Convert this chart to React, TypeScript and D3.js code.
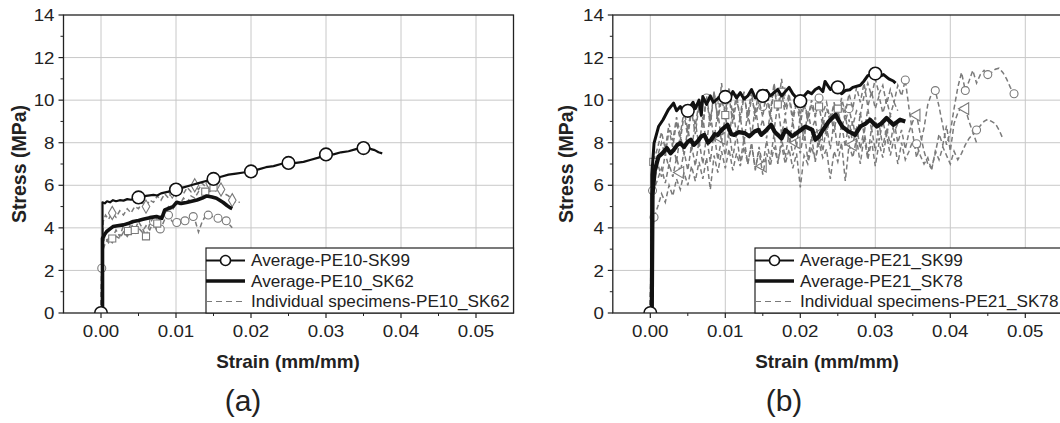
import React from 'react';
import * as d3 from 'd3';

type Pt = [number, number];

const xTicks = [0, 0.01, 0.02, 0.03, 0.04, 0.05];
const yTicks = [0, 2, 4, 6, 8, 10, 12, 14];
const xMinor = [0.005, 0.015, 0.025, 0.035, 0.045];
const yMinor = [1, 3, 5, 7, 9, 11, 13];

// ---------- panel (a) ----------
const aLegend = ['Average-PE10-SK99', 'Average-PE10_SK62', 'Individual specimens-PE10_SK62'];

const aSk99: Pt[] = [[0,0],[0.0002,0.3],[0.0002,5.2],[0.0005,5.15],[0.0008,5.25],[0.0012,5.2],[0.0016,5.3],[0.002,5.25],[0.0025,5.3],[0.003,5.28],[0.0035,5.35],[0.004,5.32],[0.005,5.43],[0.006,5.5],[0.007,5.55],[0.0075,5.52],[0.008,5.62],[0.009,5.7],[0.01,5.8],[0.011,5.9],[0.012,6.0],[0.013,6.1],[0.014,6.2],[0.015,6.3],[0.016,6.4],[0.017,6.5],[0.018,6.55],[0.019,6.6],[0.02,6.65],[0.021,6.75],[0.022,6.85],[0.023,6.9],[0.024,7.0],[0.025,7.05],[0.026,7.05],[0.027,7.1],[0.028,7.2],[0.029,7.3],[0.03,7.45],[0.031,7.45],[0.032,7.55],[0.033,7.6],[0.034,7.7],[0.035,7.75],[0.0355,7.8],[0.036,7.7],[0.0365,7.65],[0.037,7.55],[0.0375,7.5]];
const aSk99Marks: Pt[] = [[0,0],[0.005,5.43],[0.01,5.8],[0.015,6.3],[0.02,6.65],[0.025,7.05],[0.03,7.45],[0.035,7.75]];

const aSk62: Pt[] = [[0,0],[0.0002,0.2],[0.0002,3.51],[0.0005,3.7],[0.00076,3.83],[0.0012,3.95],[0.0016,4.06],[0.0022,4.1],[0.003,4.14],[0.0036,4.2],[0.0043,4.3],[0.005,4.35],[0.0056,4.4],[0.0065,4.48],[0.0074,4.53],[0.0081,4.45],[0.0085,4.84],[0.0096,5.0],[0.0101,5.2],[0.0107,5.15],[0.0114,5.19],[0.0121,5.25],[0.0128,5.31],[0.0135,5.4],[0.0141,5.5],[0.0148,5.45],[0.0154,5.39],[0.0163,5.19],[0.0168,5.05],[0.0172,4.95],[0.0175,4.9]];

const aSpec1: Pt[] = [[0,0],[0.0001,2.5],[0.0003,4.3],[0.0006,4.6],[0.001,4.4],[0.0015,4.7],[0.002,4.5],[0.0025,4.8],[0.003,4.6],[0.0035,4.9],[0.004,4.7],[0.0045,5.0],[0.005,4.9],[0.0055,5.2],[0.006,5.0],[0.0065,5.3],[0.007,5.2],[0.0075,5.5],[0.008,5.3],[0.0085,5.6],[0.009,5.4],[0.0095,5.7],[0.01,5.5],[0.0105,5.8],[0.011,5.6],[0.0115,5.9],[0.012,5.7],[0.0125,6.0],[0.013,5.8],[0.0135,6.1],[0.014,5.9],[0.0145,6.1],[0.015,6.0],[0.0155,5.9],[0.016,5.8],[0.0165,5.6],[0.017,5.5],[0.0175,5.3],[0.018,5.2],[0.0185,5.2]];
const aSpec1Marks: Pt[] = [[0.0015,4.7],[0.006,5.0],[0.0095,5.7],[0.0125,6.0],[0.0145,6.1],[0.016,5.8],[0.0175,5.3]];
const aSpec2: Pt[] = [[0,0],[0.0001,2.1],[0.0003,3.0],[0.0006,3.3],[0.001,3.5],[0.0015,3.3],[0.002,3.6],[0.0025,3.5],[0.003,3.8],[0.0035,3.6],[0.004,3.9],[0.0045,3.7],[0.005,4.0],[0.0055,3.8],[0.006,4.1],[0.0065,3.9],[0.007,4.3],[0.0075,3.8],[0.008,4.0],[0.0085,4.4],[0.009,4.6],[0.0095,4.3],[0.01,4.2],[0.0105,4.4],[0.011,4.3],[0.0115,4.4],[0.012,4.5],[0.0125,4.4],[0.013,3.8],[0.0135,4.3],[0.014,4.6],[0.0145,4.6],[0.015,4.5],[0.0155,4.4],[0.016,4.4],[0.0165,4.35],[0.017,4.2],[0.0175,4.0]];
const aSpec2Marks: Pt[] = [[0.0001,2.1],[0.007,4.3],[0.0079,3.95],[0.009,4.6],[0.0101,4.25],[0.0112,4.33],[0.0123,4.53],[0.0143,4.6],[0.0156,4.45],[0.0167,4.33]];
const aSpec3: Pt[] = [[0,0],[0.0002,3.0],[0.0005,3.6],[0.001,3.3],[0.0015,3.5],[0.002,3.9],[0.0025,3.6],[0.003,4.1],[0.0035,3.8],[0.004,4.2],[0.0045,3.9],[0.005,4.3],[0.0055,4.0],[0.006,3.6],[0.0065,4.2],[0.007,4.5],[0.0075,4.2],[0.008,4.6],[0.0085,4.8],[0.009,5.0],[0.0095,4.8],[0.01,5.2],[0.0105,5.1],[0.011,5.4],[0.0115,5.2],[0.012,5.5],[0.0125,5.4],[0.013,5.7],[0.0135,5.6],[0.014,5.8],[0.0145,5.7],[0.015,5.9],[0.0155,5.6]];
const aSpec3Marks: Pt[] = [[0.0015,3.5],[0.0036,3.85],[0.0045,3.9],[0.006,3.6],[0.0075,4.2],[0.0139,5.7],[0.015,5.9]];

// ---------- panel (b) ----------
const bLegend = ['Average-PE21_SK99', 'Average-PE21_SK78', 'Individual specimens-PE21_SK78'];

const bSk99: Pt[] = [[0,0],[0.0002,0.2],[0.0002,6.5],[0.0005,7.98],[0.0011,8.76],[0.0017,9.08],[0.0024,9.55],[0.0031,9.86],[0.0035,9.5],[0.004,9.7],[0.0045,9.4],[0.005,9.52],[0.0057,9.9],[0.006,9.6],[0.0065,10.0],[0.0068,9.3],[0.007,10.17],[0.0075,9.8],[0.008,10.2],[0.0084,9.9],[0.0093,10.17],[0.01,10.17],[0.0105,10.0],[0.011,10.4],[0.0115,10.1],[0.012,10.35],[0.0125,10.05],[0.013,10.2],[0.0135,10.5],[0.014,10.1],[0.015,10.2],[0.0155,10.45],[0.016,10.2],[0.0165,10.35],[0.017,10.5],[0.0175,10.2],[0.018,10.4],[0.0185,10.6],[0.019,10.3],[0.0195,10.1],[0.02,9.99],[0.0205,10.2],[0.021,10.4],[0.0215,10.3],[0.022,10.5],[0.0225,10.6],[0.023,10.4],[0.0233,10.88],[0.024,10.5],[0.0245,10.7],[0.025,10.6],[0.0255,10.3],[0.026,10.45],[0.0266,10.49],[0.027,10.6],[0.028,10.7],[0.0285,10.9],[0.029,11.15],[0.03,11.27],[0.0305,11.1],[0.0311,11.2],[0.0318,11.0],[0.0324,10.9],[0.0327,10.8]];
const bSk99Marks: Pt[] = [[0,0],[0.005,9.5],[0.01,10.15],[0.015,10.2],[0.02,9.95],[0.025,10.6],[0.03,11.25]];

const bSk78: Pt[] = [[0,0],[0.0002,0.2],[0.0003,5.6],[0.0006,6.7],[0.0011,7.35],[0.0016,7.5],[0.0022,7.75],[0.0027,7.5],[0.0031,7.65],[0.0036,7.9],[0.004,7.98],[0.0045,7.8],[0.005,8.05],[0.0054,8.14],[0.0058,7.9],[0.0063,8.06],[0.0068,8.3],[0.0072,8.37],[0.0077,8.0],[0.0081,8.14],[0.0086,8.4],[0.009,8.37],[0.0095,8.6],[0.0103,8.84],[0.0108,8.4],[0.0112,8.37],[0.0118,8.5],[0.0126,8.45],[0.0132,8.3],[0.0139,8.53],[0.0144,8.6],[0.0148,8.37],[0.0155,8.6],[0.0161,8.84],[0.0166,8.5],[0.017,8.37],[0.0175,8.2],[0.018,8.6],[0.0185,8.45],[0.0189,8.3],[0.0198,8.53],[0.0207,8.76],[0.0216,8.6],[0.022,8.14],[0.0225,8.3],[0.0229,8.53],[0.0238,9.0],[0.0247,9.31],[0.0252,9.0],[0.0256,8.76],[0.0264,8.53],[0.0269,8.45],[0.0273,8.37],[0.028,8.76],[0.0287,8.9],[0.0293,9.08],[0.0302,8.76],[0.0308,8.9],[0.0315,9.16],[0.0324,8.84],[0.0333,9.08],[0.034,9.0]];

const bSpec1: Pt[] = [[0,0],[0.0001,3],[0.0003,5.75],[0.0008,7.2],[0.0015,8.0],[0.002,7.4],[0.0025,8.6],[0.003,7.8],[0.0035,9.0],[0.004,8.1],[0.0045,9.3],[0.005,8.3],[0.0055,9.5],[0.006,8.4],[0.0065,9.8],[0.007,8.7],[0.0075,10.1],[0.008,8.8],[0.0085,10.4],[0.009,9.0],[0.0095,10.8],[0.01,9.2],[0.0105,10.2],[0.011,8.9],[0.0115,10.0],[0.012,9.3],[0.0125,10.4],[0.013,9.0],[0.0135,10.1],[0.014,9.4],[0.0145,10.5],[0.015,9.7],[0.0155,10.3],[0.016,9.1],[0.0165,10.6],[0.017,9.5],[0.0175,11.0],[0.018,9.6],[0.0185,10.3],[0.019,9.2],[0.0195,10.0],[0.02,9.3],[0.0205,10.2],[0.021,9.0],[0.0215,9.8],[0.022,9.2],[0.0225,10.1],[0.023,9.4],[0.0235,9.9],[0.024,9.0],[0.0245,9.7],[0.025,9.3],[0.0255,9.9],[0.026,9.0],[0.0265,9.6],[0.027,8.8],[0.0275,9.5],[0.028,9.3],[0.0285,10.2],[0.029,10.8],[0.0295,10.2],[0.03,11.0],[0.0305,10.3],[0.031,10.7],[0.0315,9.8],[0.032,10.5],[0.0325,9.9],[0.033,10.7],[0.0335,10.2],[0.034,10.95],[0.0345,9.6],[0.035,8.4],[0.0355,7.3],[0.036,7.9],[0.0365,8.7],[0.037,9.8],[0.0375,10.3],[0.038,10.45],[0.0385,9.7],[0.039,8.8],[0.0395,7.9],[0.04,8.5],[0.0405,9.6],[0.041,10.6],[0.0415,11.3],[0.042,10.45],[0.0425,10.9],[0.043,11.4],[0.0435,10.8],[0.044,11.2],[0.0445,11.4],[0.045,11.2],[0.0455,11.3],[0.046,11.45],[0.0465,11.5],[0.047,11.3],[0.0475,11.0],[0.048,10.6],[0.0485,10.3]];
const bSpec1Marks: Pt[] = [[0.0003,5.75],[0.0075,10.1],[0.015,9.7],[0.0225,10.1],[0.0265,9.6],[0.034,10.95],[0.038,10.45],[0.042,10.45],[0.045,11.2],[0.0485,10.3]];
const bSpec2: Pt[] = [[0,0],[0.0002,4.5],[0.0005,5.8],[0.001,6.3],[0.0015,6.8],[0.002,6.1],[0.0025,7.0],[0.003,6.4],[0.0035,7.3],[0.004,6.6],[0.0045,7.6],[0.005,6.7],[0.0055,7.9],[0.006,6.9],[0.0065,8.1],[0.007,7.0],[0.0075,8.3],[0.008,7.1],[0.0085,8.5],[0.009,7.2],[0.0095,8.2],[0.01,7.4],[0.0105,8.6],[0.011,7.3],[0.0115,8.4],[0.012,7.1],[0.0125,8.2],[0.013,7.0],[0.0135,8.0],[0.014,6.7],[0.0145,7.8],[0.015,6.9],[0.0155,8.1],[0.016,7.2],[0.0165,8.4],[0.017,7.0],[0.0175,8.2],[0.018,7.3],[0.0185,8.5],[0.019,7.4],[0.0195,8.0],[0.02,7.5],[0.0205,8.6],[0.021,7.2],[0.0215,8.3],[0.022,7.1],[0.0225,8.4],[0.023,7.6],[0.0235,8.8],[0.024,7.7],[0.0245,9.0],[0.025,7.6],[0.0255,8.9],[0.026,7.8],[0.0265,9.1],[0.027,7.9],[0.0275,8.8],[0.028,7.7],[0.0285,8.6],[0.029,7.4],[0.0295,8.7],[0.03,7.6],[0.0305,8.9],[0.031,7.8],[0.0315,8.7],[0.032,7.9],[0.0325,9.0],[0.033,8.0],[0.0335,8.6],[0.034,7.7],[0.0345,8.5],[0.035,9.0],[0.0355,9.3],[0.036,8.4],[0.0365,7.6],[0.037,7.0],[0.0375,6.8],[0.038,7.5],[0.0385,8.4],[0.039,7.9],[0.0395,8.8],[0.04,7.6],[0.0405,8.9],[0.041,9.4],[0.0415,9.7],[0.042,9.6],[0.0425,9.0],[0.043,8.5],[0.0435,8.0]];
const bSpec2Marks: Pt[] = [[0.004,6.6],[0.0095,8.2],[0.015,6.9],[0.0195,8.0],[0.0225,8.4],[0.027,7.9],[0.0355,9.3],[0.042,9.6]];
const bSpec3: Pt[] = [[0,0],[0.0002,5.2],[0.0004,7.1],[0.001,7.8],[0.0015,8.5],[0.002,7.7],[0.0025,8.9],[0.003,8.1],[0.0035,9.2],[0.004,8.4],[0.0045,9.5],[0.005,8.6],[0.0055,9.6],[0.006,8.8],[0.0065,9.9],[0.007,8.9],[0.0075,10.2],[0.008,9.0],[0.0085,10.4],[0.009,9.1],[0.0095,10.0],[0.01,9.4],[0.0105,10.6],[0.011,9.2],[0.0115,10.3],[0.012,9.0],[0.0125,10.2],[0.013,9.3],[0.0135,10.4],[0.014,9.1],[0.0145,10.0],[0.015,9.2],[0.0155,10.5],[0.016,9.4],[0.0165,10.8],[0.017,9.6],[0.0175,10.4],[0.018,9.3],[0.0185,10.1],[0.019,9.0],[0.0195,9.9],[0.02,8.9],[0.0205,9.8],[0.021,9.1],[0.0215,10.0],[0.022,9.3],[0.0225,9.7],[0.023,8.8],[0.0235,9.6],[0.024,9.0],[0.0245,9.9],[0.025,9.2],[0.0255,10.1],[0.026,9.4],[0.0265,10.3],[0.027,9.6],[0.0275,10.6],[0.028,9.9],[0.0285,10.8],[0.029,9.7],[0.0295,10.4],[0.03,9.6],[0.0305,10.2],[0.031,9.4],[0.0315,10.0],[0.032,9.3],[0.0325,9.9],[0.033,9.5]];
const bSpec3Marks: Pt[] = [[0.0004,7.1],[0.0095,10.0],[0.0175,10.4],[0.0225,9.7]];
const bSpec4: Pt[] = [[0,0],[0.0002,3.5],[0.0005,4.5],[0.001,5.0],[0.0015,5.6],[0.002,5.2],[0.0025,6.0],[0.003,5.5],[0.0035,6.3],[0.004,5.8],[0.0045,6.6],[0.005,6.0],[0.0055,6.9],[0.006,6.2],[0.0065,7.1],[0.007,6.3],[0.0075,7.3],[0.008,5.8],[0.0085,7.4],[0.009,6.6],[0.0095,7.6],[0.01,6.8],[0.0105,7.7],[0.011,6.7],[0.0115,7.5],[0.012,6.9],[0.0125,7.8],[0.013,7.0],[0.0135,7.9],[0.014,6.8],[0.0145,7.6],[0.015,6.5],[0.0155,7.5],[0.016,6.9],[0.0165,7.8],[0.017,7.1],[0.0175,7.9],[0.018,7.0],[0.0185,7.7],[0.019,6.8],[0.0195,7.5],[0.02,5.9],[0.0205,7.4],[0.021,7.0],[0.0215,7.8],[0.022,7.2],[0.0225,8.0],[0.023,7.3],[0.0235,7.7],[0.024,6.3],[0.0245,7.6],[0.025,7.1],[0.0255,8.0],[0.026,6.2],[0.0265,7.9],[0.027,7.3],[0.0275,8.2],[0.028,7.0],[0.0285,8.3],[0.029,7.2],[0.0295,8.1],[0.03,6.9],[0.0305,8.0],[0.031,7.3],[0.0315,8.4],[0.032,7.4],[0.0325,8.2],[0.033,7.0],[0.0335,8.0],[0.034,7.2],[0.0345,7.6],[0.035,8.1],[0.0355,7.95],[0.036,7.4],[0.0365,7.0],[0.037,7.3],[0.0375,6.7],[0.038,7.6],[0.0385,7.2],[0.039,7.8],[0.0395,7.4],[0.04,7.0],[0.0405,7.6],[0.041,7.2],[0.0415,7.5],[0.042,7.9],[0.0425,8.2],[0.043,8.4],[0.0435,8.6],[0.044,8.8],[0.0445,9.0],[0.045,9.1],[0.0455,9.0],[0.046,8.9],[0.0465,8.6],[0.047,8.2]];
const bSpec4Marks: Pt[] = [[0.0005,4.5],[0.0355,7.95],[0.0435,8.6]];
const bSpec5: Pt[] = [[0,0],[0.0002,4.0],[0.0005,6.2],[0.001,7.0],[0.0015,6.4],[0.002,7.5],[0.0025,6.8],[0.003,8.0],[0.0035,7.1],[0.004,8.4],[0.0045,7.4],[0.005,8.7],[0.0055,7.6],[0.006,9.0],[0.0065,7.8],[0.007,9.2],[0.0075,7.9],[0.008,9.4],[0.0085,8.1],[0.009,9.5],[0.0095,8.0],[0.01,9.3],[0.0105,8.2],[0.011,9.6],[0.0115,8.4],[0.012,9.2],[0.0125,8.0],[0.013,9.5],[0.0135,8.3],[0.014,9.7],[0.0145,8.5],[0.015,9.1],[0.0155,8.2],[0.016,9.4],[0.0165,8.6],[0.017,9.8],[0.0175,8.4],[0.018,9.2],[0.0185,8.0],[0.019,9.0],[0.0195,7.8],[0.02,9.3],[0.0205,8.1],[0.021,9.5],[0.0215,8.6],[0.022,9.1],[0.0225,7.9],[0.023,9.2],[0.0235,8.3],[0.024,9.4],[0.0245,8.5],[0.025,9.6],[0.0255,8.7],[0.026,9.3],[0.0265,8.2],[0.027,9.0],[0.0275,8.0],[0.028,9.4],[0.0285,8.4],[0.029,9.6],[0.0295,8.6],[0.03,9.2],[0.0305,8.1],[0.031,9.0],[0.0315,8.3],[0.032,9.3],[0.0325,8.5],[0.033,8.9]];
const bSpec5Marks: Pt[] = [[0.01,9.3],[0.017,9.8],[0.025,9.6]];

const FONT = '"Liberation Sans", Arial, sans-serif';
const GRAY = '#7a7a7a';

type Spec = { pts: Pt[]; marks: Pt[]; shape: string };

const shapes: Record<string, d3.SymbolType> = {
  circle: d3.symbolCircle,
  square: d3.symbolSquare,
  diamond: d3.symbolDiamond,
  triangle: d3.symbolTriangle,
};

// text that is a bit wider than the font, like the stretched original
function T(props: { x: number; y: number; sx: number; size: number; anchor?: string; bold?: boolean; dy?: string; children: React.ReactNode }) {
  return (
    <text
      transform={`translate(${props.x},${props.y}) scale(${props.sx},1)`}
      dy={props.dy}
      textAnchor={props.anchor || 'start'}
      fontFamily={FONT}
      fontWeight={props.bold ? 'bold' : 'normal'}
      fontSize={props.size}
      fill="#222"
    >
      {props.children}
    </text>
  );
}

function Panel(props: {
  id: string;
  x0: number;
  legendX: number;
  labels: string[];
  avgA: Pt[];
  avgAMarks: Pt[];
  avgB: Pt[];
  wA: number;
  wB: number;
  specs: Spec[];
  yTitleX: number;
  xTitleX: number;
  tag: string;
  tagX: number;
}) {
  const { id, x0, legendX, labels, avgA, avgAMarks, avgB, specs } = props;
  const x = d3.scaleLinear().domain([-0.005, 0.055]).range([x0, x0 + 450]);
  const y = d3.scaleLinear().domain([0, 14]).range([313, 15]);
  const line = d3.line<Pt>().x(d => x(d[0])).y(d => y(d[1]));
  const right = x(0.055);
  const rows = [260.5, 281, 301.5];

  return (
    <g>
      <defs>
        <clipPath id={id}>
          <rect x={x0} y={15} width={450} height={298} />
        </clipPath>
      </defs>
      {/* grid */}
      {xTicks.map(t => (
        <line key={'gx' + t} x1={x(t)} x2={x(t)} y1={y(0)} y2={y(14)} stroke="#c8c8c8" strokeWidth={1} />
      ))}
      {yTicks.filter(t => t > 0 && t < 14).map(t => (
        <line key={'gy' + t} x1={x0} x2={right} y1={y(t)} y2={y(t)} stroke="#c8c8c8" strokeWidth={1} />
      ))}

      {/* data */}
      <g clipPath={`url(#${id})`}>
        {specs.map((s, i) => (
          <g key={'s' + i}>
            <path d={line(s.pts) || ''} fill="none" stroke={GRAY} strokeWidth={1.5} strokeDasharray="5,3" />
            {s.marks.map((m, j) => (
              <path
                key={j}
                d={d3.symbol().type(shapes[s.shape]).size(s.shape === 'triangle' ? 60 : 50)() || ''}
                transform={`translate(${x(m[0])},${y(m[1])})${s.shape === 'triangle' ? ' rotate(-90)' : ''}`}
                fill="white"
                stroke={GRAY}
                strokeWidth={1.1}
              />
            ))}
          </g>
        ))}
        <path d={line(avgB) || ''} fill="none" stroke="#111" strokeWidth={props.wB} strokeLinejoin="round" />
        <path d={line(avgA) || ''} fill="none" stroke="#111" strokeWidth={props.wA} strokeLinejoin="round" />
        {avgAMarks.map((m, j) => (
          <circle key={j} cx={x(m[0])} cy={y(m[1])} r={6.3} fill="white" stroke="#111" strokeWidth={1.6} />
        ))}
      </g>

      {/* frame */}
      <rect x={x0} y={15} width={450} height={298} fill="none" stroke="#222" strokeWidth={1.3} />

      {/* ticks */}
      {xTicks.map(t => (
        <g key={'tx' + t}>
          <line x1={x(t)} x2={x(t)} y1={313} y2={318} stroke="#222" strokeWidth={1.2} />
          <T x={x(t)} y={337} sx={1.1} size={17} anchor="middle">
            {d3.format('.2f')(t)}
          </T>
        </g>
      ))}
      {xMinor.map(t => (
        <line key={'mx' + t} x1={x(t)} x2={x(t)} y1={313} y2={316} stroke="#222" strokeWidth={1} />
      ))}
      {yTicks.map(t => (
        <g key={'ty' + t}>
          <line x1={x0 - 5} x2={x0} y1={y(t)} y2={y(t)} stroke="#222" strokeWidth={1.2} />
          <T x={x0 - 9} y={y(t)} sx={1.1} size={17} anchor="end" dy="0.36em">
            {t}
          </T>
        </g>
      ))}
      {yMinor.map(t => (
        <line key={'my' + t} x1={x0 - 3} x2={x0} y1={y(t)} y2={y(t)} stroke="#222" strokeWidth={1} />
      ))}

      {/* titles */}
      <text
        transform={`translate(${props.yTitleX},164) rotate(-90)`}
        textAnchor="middle"
        fontFamily={FONT}
        fontWeight="bold"
        fontSize={19.5}
        fill="#222"
      >
        Stress (MPa)
      </text>
      <T x={props.xTitleX} y={368} sx={1.05} size={18} anchor="middle" bold>
        Strain (mm/mm)
      </T>
      <T x={props.tagX} y={411} sx={1} size={30} anchor="middle">
        {props.tag}
      </T>

      {/* legend */}
      <rect x={legendX} y={248} width={right - legendX} height={65} fill="white" stroke="#222" strokeWidth={1.2} />
      <line x1={legendX} x2={legendX + 39} y1={rows[0]} y2={rows[0]} stroke="#111" strokeWidth={2} />
      <circle cx={legendX + 19.5} cy={rows[0]} r={5} fill="white" stroke="#111" strokeWidth={1.6} />
      <line x1={legendX} x2={legendX + 39} y1={rows[1]} y2={rows[1]} stroke="#111" strokeWidth={3.6} />
      <line x1={legendX} x2={legendX + 39} y1={rows[2]} y2={rows[2]} stroke={GRAY} strokeWidth={1.2} strokeDasharray="6,4" />
      {labels.map((l, i) => (
        <T key={l} x={legendX + 45} y={rows[i]} sx={1.04} size={16.5} dy="0.36em">
          {l}
        </T>
      ))}
    </g>
  );
}

export default function App() {
  const aSpecs: Spec[] = [
    { pts: aSpec1, marks: aSpec1Marks, shape: 'diamond' },
    { pts: aSpec2, marks: aSpec2Marks, shape: 'circle' },
    { pts: aSpec3, marks: aSpec3Marks, shape: 'square' },
  ];
  const bSpecs: Spec[] = [
    { pts: bSpec1, marks: bSpec1Marks, shape: 'circle' },
    { pts: bSpec2, marks: bSpec2Marks, shape: 'triangle' },
    { pts: bSpec3, marks: bSpec3Marks, shape: 'square' },
    { pts: bSpec4, marks: bSpec4Marks, shape: 'circle' },
    { pts: bSpec5, marks: bSpec5Marks, shape: 'square' },
  ];
  return (
    <div style={{ position: 'absolute', left: 0, top: 0 }}>
      <svg width={1060} height={423} style={{ display: 'block', background: 'white' }}>
        <Panel
          id="clipA"
          x0={63.5}
          legendX={206}
          labels={aLegend}
          avgA={aSk99}
          avgAMarks={aSk99Marks}
          avgB={aSk62}
          wA={2.2}
          wB={3.6}
          specs={aSpecs}
          yTitleX={26}
          xTitleX={288}
          tag="(a)"
          tagX={243}
        />
        <Panel
          id="clipB"
          x0={612.8}
          legendX={755}
          labels={bLegend}
          avgA={bSk99}
          avgAMarks={bSk99Marks}
          avgB={bSk78}
          wA={3}
          wB={4.2}
          specs={bSpecs}
          yTitleX={573}
          xTitleX={827}
          tag="(b)"
          tagX={784}
        />
      </svg>
    </div>
  );
}
